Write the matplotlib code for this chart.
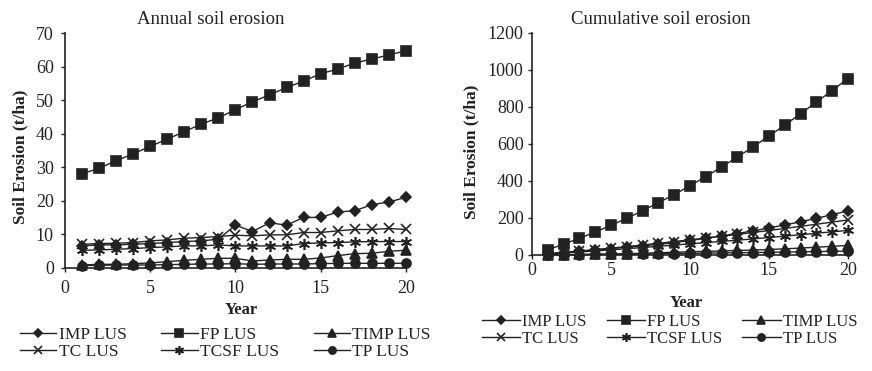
import numpy as np
import matplotlib
matplotlib.use('Agg')
import matplotlib.pyplot as plt

plt.rcParams['font.family'] = ['Liberation Serif', 'DejaVu Serif']

years = list(range(1, 21))

# annual soil erosion (t/ha)
imp_annual = [6.5, 6.8, 6.8, 7.0, 7.2, 7.5, 7.8, 8.0, 8.5, 12.7, 10.8, 13.4, 12.7, 15.0, 15.0, 16.6, 17.0, 18.8, 19.6, 21.0]
fp_annual = [28.0, 29.7, 31.9, 34.0, 36.2, 38.4, 40.6, 42.9, 44.7, 47.2, 49.5, 51.6, 53.8, 55.7, 57.9, 59.3, 61.1, 62.3, 63.5, 64.8]
timp_annual = [0.8, 1.0, 1.0, 1.2, 1.4, 1.8, 2.2, 2.5, 2.8, 2.8, 2.0, 2.3, 2.5, 2.5, 2.9, 3.6, 4.2, 4.3, 4.9, 5.2]
tc_annual = [7.0, 7.2, 7.3, 7.5, 8.0, 8.3, 8.8, 9.0, 9.3, 9.7, 9.5, 9.8, 9.8, 10.5, 10.5, 11.0, 11.4, 11.4, 11.7, 11.4]
tcsf_annual = [5.2, 5.3, 5.5, 5.7, 6.0, 6.2, 6.5, 6.5, 6.8, 6.5, 6.5, 6.5, 6.5, 7.2, 7.4, 7.5, 7.7, 7.8, 7.8, 7.8]
tp_annual = [0.6, 0.7, 0.8, 0.8, 0.8, 0.9, 1.0, 1.1, 1.1, 1.2, 1.0, 1.1, 1.1, 1.1, 1.2, 1.3, 1.3, 1.3, 1.3, 1.3]

# cumulative soil erosion (t/ha)
imp_cum = [6.5, 13.3, 20.1, 27.1, 34.3, 41.8, 49.6, 57.6, 66.1, 78.8, 89.6, 103.0, 115.7, 130.7, 145.7, 162.3, 179.3, 198.1, 217.7, 238.7]
fp_cum = [28, 58, 90, 124, 160, 198, 239, 282, 326, 374, 423, 475, 529, 584, 642, 701, 763, 825, 888, 953]
timp_cum = [0.8, 1.8, 2.8, 4.0, 5.4, 7.2, 9.4, 11.9, 14.7, 17.5, 19.5, 21.8, 24.3, 26.8, 29.7, 33.3, 37.5, 41.8, 46.7, 51.9]
tc_cum = [7.0, 14.2, 21.5, 29.0, 37.0, 45.3, 54.1, 63.1, 72.4, 82.1, 91.6, 101.4, 111.2, 121.7, 132.2, 143.2, 154.6, 166.0, 177.7, 189.1]
tcsf_cum = [5.2, 10.5, 16.0, 21.7, 27.7, 33.9, 40.4, 46.9, 53.7, 60.2, 66.7, 73.2, 79.7, 86.9, 94.3, 101.8, 109.5, 117.3, 125.1, 132.9]
tp_cum = [0.6, 1.3, 2.1, 2.9, 3.7, 4.6, 5.6, 6.7, 7.8, 9.0, 10.0, 11.1, 12.2, 13.3, 14.5, 15.8, 17.1, 18.4, 19.7, 21.0]

labels = ['IMP LUS', 'FP LUS', 'TIMP LUS', 'TC LUS', 'TCSF LUS', 'TP LUS']
markers = ['D', 's', '^', 'x', (6, 2, 0), 'o']
msizes = [5.5, 7, 6.5, 7, 8, 6.5]

ink = '#222222'

fig = plt.figure(figsize=(8.72, 3.71), dpi=100)
ax0 = fig.add_axes([0.0745, 0.2785, 0.391, 0.632])
ax1 = fig.add_axes([0.610, 0.3127, 0.3624, 0.599])


def draw(ax, series, ymax, ystep, xpad, ypad):
    hs = []
    for vals, lab, m, ms in zip(series, labels, markers, msizes):
        h, = ax.plot(years, vals, color=ink, lw=1, marker=m, ms=ms,
                     mfc=ink, mec=ink, mew=1.2, label=lab, clip_on=False)
        hs.append(h)
    ax.set_xlim(0, 20)
    ax.set_ylim(0, ymax)
    ax.set_xticks([0, 5, 10, 15, 20])
    ax.set_yticks(np.arange(0, ymax + 1, ystep))
    ax.spines['top'].set_visible(False)
    ax.spines['right'].set_visible(False)
    for s in ['left', 'bottom']:
        ax.spines[s].set_color(ink)
        ax.spines[s].set_linewidth(1.2)
    ax.tick_params(direction='out', length=3, width=1, colors=ink,
                   labelsize=13, labelcolor=ink)
    ax.tick_params(axis='x', pad=xpad)
    ax.tick_params(axis='y', pad=ypad)
    return hs


hs0 = draw(ax0, [imp_annual, fp_annual, timp_annual, tc_annual, tcsf_annual, tp_annual], 70, 10, 6, 5)
hs1 = draw(ax1, [imp_cum, fp_cum, timp_cum, tc_cum, tcsf_cum, tp_cum], 1200, 200, 2, 3)

# titles
fig.text(211 / 872, 1 - 20 / 371, 'Annual soil erosion', ha='center', va='center', fontsize=13.5, color=ink)
fig.text(661 / 872, 1 - 20 / 371, 'Cumulative soil erosion', ha='center', va='center', fontsize=13.5, color=ink)

# axis labels
fig.text(20 / 872, 1 - 157 / 371, 'Soil Erosion (t/ha)', rotation=90, ha='center', va='center',
         fontsize=12.5, fontweight='bold', color=ink)
fig.text(471 / 872, 1 - 152 / 371, 'Soil Erosion (t/ha)', rotation=90, ha='center', va='center',
         fontsize=12.5, fontweight='bold', color=ink)
fig.text(241 / 872, 1 - 310 / 371, 'Year', ha='center', va='center', fontsize=12, fontweight='bold', color=ink)
fig.text(686 / 872, 1 - 303 / 371, 'Year', ha='center', va='center', fontsize=12, fontweight='bold', color=ink)

# legends: row-wise order IMP FP TIMP / TC TCSF TP
order = [0, 3, 1, 4, 2, 5]
for ax, hs, anchor, fs, hl, cs in [(ax0, hs0, (20 / 872, 1 - 327 / 371), 12.5, 2.1, 2.0),
                                    (ax1, hs1, (482 / 872, 1 - 314 / 371), 12, 2.3, 1.2)]:
    leg = ax.legend([hs[i] for i in order], [labels[i] for i in order], ncol=3,
                    loc='upper left', bbox_to_anchor=anchor, bbox_transform=fig.transFigure,
                    frameon=False, fontsize=fs, handlelength=hl, handletextpad=0.12,
                    columnspacing=cs, labelspacing=0.05, borderpad=0, borderaxespad=0,
                    markerscale=0.8)
    for t in leg.get_texts():
        t.set_color(ink)

fig.savefig('out.png', dpi=100)
